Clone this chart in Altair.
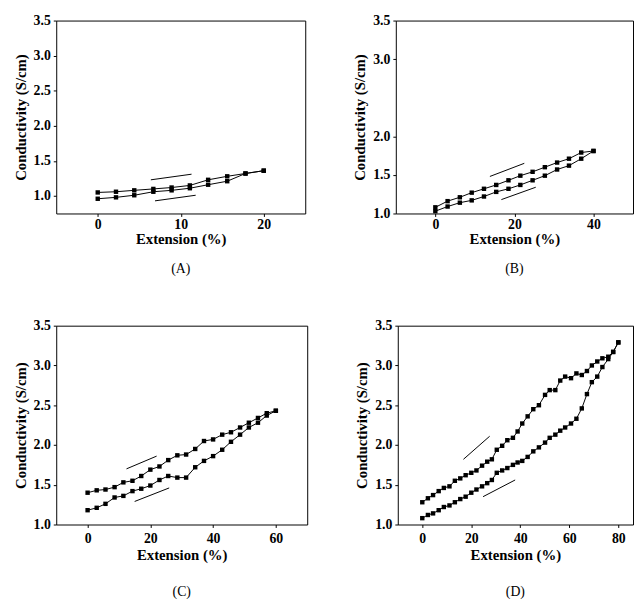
import altair as alt
import pandas as pd

# ---------------- data ----------------
# Panel A
a_x = [0, 2.2, 4.4, 6.7, 8.9, 11.1, 13.3, 15.6, 17.8, 20]
a_up = [1.05, 1.06, 1.08, 1.10, 1.12, 1.15, 1.23, 1.28, 1.32, 1.36]
a_lo = [0.96, 0.98, 1.01, 1.06, 1.08, 1.11, 1.16, 1.21, 1.32, 1.36]
a_arrows = {"x1": [6.4, 6.9], "y1": [1.23, 0.93], "x2": [11.3, 11.8], "y2": [1.31, 1.01]}

# Panel B
b_x = [0, 3.1, 6.2, 9.2, 12.3, 15.4, 18.5, 21.5, 24.6, 27.7, 30.8, 33.8, 36.9, 40]
b_up = [1.08, 1.16, 1.21, 1.27, 1.32, 1.37, 1.43, 1.49, 1.54, 1.60, 1.66, 1.71, 1.79, 1.81]
b_lo = [1.03, 1.09, 1.14, 1.17, 1.22, 1.28, 1.32, 1.37, 1.43, 1.49, 1.57, 1.62, 1.71, 1.81]
b_arrows = {"x1": [13.8, 16.7], "y1": [1.48, 1.18], "x2": [22.5, 25.4], "y2": [1.65, 1.34]}

# Panel C
c_x = [0, 2.9, 5.7, 8.6, 11.4, 14.3, 17.1, 20, 22.9, 25.7, 28.6, 31.4, 34.3, 37.1,
       40, 42.9, 45.7, 48.6, 51.4, 54.3, 57.1, 60]
c_up = [1.40, 1.43, 1.44, 1.47, 1.53, 1.55, 1.61, 1.69, 1.73, 1.81, 1.87, 1.88, 1.95, 2.05,
        2.07, 2.13, 2.16, 2.22, 2.28, 2.34, 2.40, 2.43]
c_lo = [1.18, 1.21, 1.26, 1.34, 1.36, 1.42, 1.45, 1.49, 1.56, 1.61, 1.59, 1.59, 1.72, 1.80,
        1.86, 1.94, 2.04, 2.13, 2.22, 2.28, 2.37, 2.43]
c_arrows = {"x1": [12.4, 15.0], "y1": [1.70, 1.29], "x2": [22.0, 26.0], "y2": [1.86, 1.46]}

# Panel D
d_x = [0, 2.3, 4.4, 6.7, 8.8, 11.1, 13.3, 15.5, 17.7, 20.0, 22.1, 24.4, 26.5, 28.4,
       30.4, 32.6, 34.7, 37.0, 38.9, 40.8, 43.0, 45.3, 47.6, 50.1, 52.0, 54.3, 56.3,
       58.3, 60.7, 62.9, 65.1, 67.2, 69.2, 71.4, 73.5, 75.9, 77.9, 80.0]
d_up = [1.28, 1.33, 1.37, 1.42, 1.46, 1.48, 1.55, 1.58, 1.62, 1.65, 1.68, 1.74, 1.79, 1.82,
        1.94, 1.99, 2.06, 2.09, 2.17, 2.27, 2.36, 2.45, 2.50, 2.63, 2.69, 2.69, 2.81,
        2.86, 2.84, 2.90, 2.88, 2.93, 3.00, 3.05, 3.09, 3.11, 3.17, 3.29]
d_lo = [1.08, 1.12, 1.14, 1.18, 1.22, 1.24, 1.28, 1.32, 1.35, 1.40, 1.44, 1.48, 1.52, 1.56,
        1.65, 1.68, 1.71, 1.75, 1.78, 1.80, 1.85, 1.92, 1.97, 2.03, 2.09, 2.13, 2.18,
        2.22, 2.27, 2.33, 2.46, 2.64, 2.79, 2.86, 2.98, 3.08, 3.17, 3.29]
d_arrows = {"x1": [16.8, 24.8], "y1": [1.82, 1.35], "x2": [27.5, 37.9], "y2": [2.11, 1.56]}

y_ticks_full = [1.0, 1.5, 2.0, 2.5, 3.0, 3.5]
y_ticks_b = [1.0, 1.5, 2.0, 3.0, 3.5]

FONT = "Liberation Serif"


def panel(xs, up, lo, arrows, xdom, xticks, ydom, yticks, w, h, label,
          lab_pad, title_pad, cap_off):
    rows = []
    for i, (x, y) in enumerate(zip(xs, up)):
        rows.append({"x": x, "y": y, "s": "up", "i": i})
    for i, (x, y) in enumerate(zip(xs, lo)):
        rows.append({"x": x, "y": y, "s": "lo", "i": i})
    df = pd.DataFrame(rows)
    adf = pd.DataFrame(arrows)

    xenc = alt.X("x:Q", scale=alt.Scale(domain=xdom, nice=False, zero=False),
                 axis=alt.Axis(values=xticks, tickCount=20, title="Extension (%)", format="d",
                               labelPadding=lab_pad, titlePadding=title_pad))
    yenc = alt.Y("y:Q", scale=alt.Scale(domain=ydom, nice=False, zero=False),
                 axis=alt.Axis(values=yticks, tickCount=20, title="Conductivity (S/cm)", format=".1f"))

    line = alt.Chart(df).mark_line(color="black", strokeWidth=1, clip=True).encode(
        x=xenc, y=yenc, detail="s:N", order="i:Q")
    pts = alt.Chart(df).mark_square(color="black", size=20, opacity=1, filled=True).encode(
        x="x:Q", y="y:Q")
    arr = alt.Chart(adf).mark_rule(color="black", strokeWidth=1).encode(
        x="x1:Q", y="y1:Q", x2="x2:Q", y2="y2:Q")
    return alt.layer(line, pts, arr).properties(
        width=w, height=h,
        title=alt.TitleParams(text=label, orient="bottom", font=FONT, fontSize=14,
                              fontWeight="normal", color="black", offset=cap_off, anchor="middle"))


A = panel(a_x, a_up, a_lo, a_arrows, [-5, 25], [0, 10, 20], [0.75, 3.5], y_ticks_full, 253, 196, "(A)", 1, 0, 16)
B = panel(b_x, b_up, b_lo, b_arrows, [-10, 50], [0, 20, 40], [1.0, 3.5], y_ticks_b, 241, 196, "(B)", 1, 0, 16)
C = panel(c_x, c_up, c_lo, c_arrows, [-10, 70], [0, 20, 40, 60], [1.0, 3.5], y_ticks_full, 255, 202, "(C)", 4, 3, 23)
D = panel(d_x, d_up, d_lo, d_arrows, [-10, 86], [0, 20, 40, 60, 80], [1.0, 3.5], y_ticks_full, 239, 202, "(D)", 4, 3, 23)

top = alt.hconcat(A, B, spacing=47)
bottom = alt.hconcat(C, D, spacing=47)

chart = alt.vconcat(top, bottom, spacing=42).properties(
    padding={"left": 5, "top": 0, "right": 0, "bottom": 0},
    background="white",
).configure_view(
    stroke="black", strokeWidth=1
).configure_axis(
    grid=False, domain=False, labelOverlap=False,
    labelFont=FONT, labelFontSize=14, labelFontWeight="bold", labelColor="black",
    titleFont=FONT, titleFontSize=15, titleFontWeight="bold", titleColor="black",
    tickColor="black", tickSize=3, labelPadding=3,
).configure_axisY(titlePadding=5)

chart.save("out.html", embed_options={"renderer": "svg", "actions": False})
